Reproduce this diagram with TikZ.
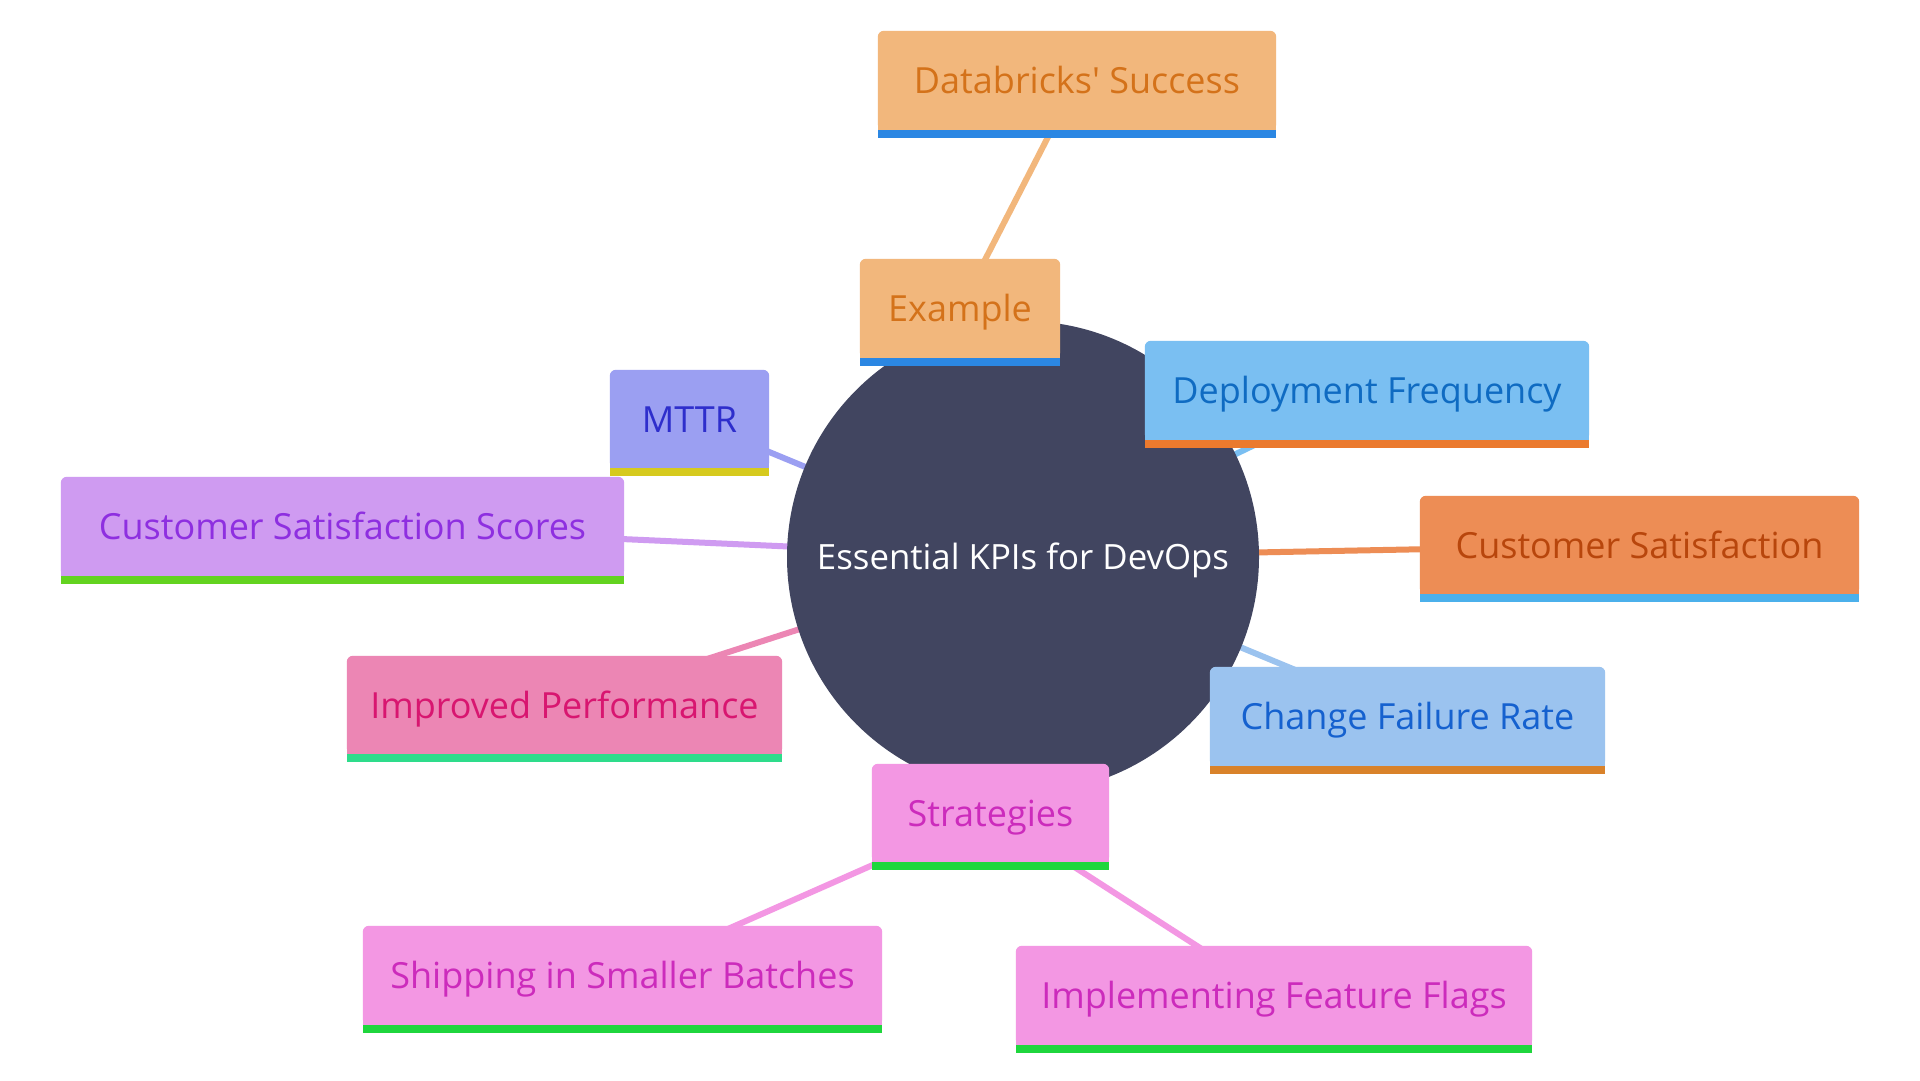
\documentclass[tikz,border=0pt]{standalone}
\usepackage{fontspec}
\newfontfamily\kfont{Open Sans}
\usetikzlibrary{calc}
\pgfdeclarelayer{bg}
\pgfdeclarelayer{edges}
\pgfdeclarelayer{circ}
\pgfdeclarelayer{boxes}
\pgfsetlayers{bg,edges,circ,boxes,main}

\definecolor{orfill}{HTML}{F2B77C}\definecolor{ortext}{HTML}{D4721A}\definecolor{orbar}{HTML}{2B87E3}
\definecolor{mtfill}{HTML}{9B9FF2}\definecolor{mttext}{HTML}{2E2ECC}\definecolor{mtbar}{HTML}{D6CA1E}
\definecolor{dffill}{HTML}{7ABFF2}\definecolor{dftext}{HTML}{0F6BC2}\definecolor{dfbar}{HTML}{EB7A2E}
\definecolor{csfill}{HTML}{ED8D55}\definecolor{cstext}{HTML}{B8460C}\definecolor{csbar}{HTML}{4BB0EB}
\definecolor{cffill}{HTML}{9BC3EF}\definecolor{cftext}{HTML}{1561CF}\definecolor{cfbar}{HTML}{D9822A}
\definecolor{ssfill}{HTML}{CF9BF1}\definecolor{sstext}{HTML}{8E2FE0}\definecolor{ssbar}{HTML}{63D320}
\definecolor{ipfill}{HTML}{EC86B4}\definecolor{iptext}{HTML}{D81670}\definecolor{ipbar}{HTML}{2EDC8B}
\definecolor{stfill}{HTML}{F397E3}\definecolor{sttext}{HTML}{CC2BBC}\definecolor{stbar}{HTML}{1FD63D}
\definecolor{hub}{HTML}{414560}

\tikzset{
  kbox/.style={inner sep=0pt, font=\kfont\fontsize{36}{44}\selectfont,
               text height=26pt, text depth=0pt},
  link/.style={line width=6pt},
}

% name, cx, cy, w, h, fill, bar, text colour, label
\newcommand\mkbox[9]{%
  \node[kbox, text=#8, minimum width=#4, minimum height=#5] (#1) at (#2,#3) {#9};
  \begin{pgfonlayer}{boxes}
    \fill[#6, rounded corners=6pt] (#1.south west) rectangle (#1.north east);
    \fill[#6] (#1.south west) rectangle (#1.east);
    \fill[#7] (#1.south west) rectangle ($(#1.south east)+(0,8)$);
  \end{pgfonlayer}}

\begin{document}
\begin{tikzpicture}[x=1pt,y=-1pt]
\useasboundingbox (0,0) rectangle (1920,1080);
\begin{pgfonlayer}{bg}
\fill[white] (0,0) rectangle (1920,1080);
\end{pgfonlayer}

\begin{pgfonlayer}{circ}
\node[circle, fill=hub, minimum size=472pt, inner sep=0pt] (hub) at (1023,557) {};
\end{pgfonlayer}
\node[text=white, inner sep=0pt, font=\kfont\fontsize{34.8}{42}\selectfont]
  (hublabel) at ([yshift=-3pt]hub.center) {Essential KPIs for DevOps};

\mkbox{ds}{1077}{80.5}{398}{99}{orfill}{orbar}{ortext}{Databricks' Success}
\mkbox{ex}{960}{308.5}{200}{99}{orfill}{orbar}{ortext}{Example}
\mkbox{mttr}{689.5}{419}{159}{98}{mtfill}{mtbar}{mttext}{MTTR}
\mkbox{df}{1367}{390.5}{444}{99}{dffill}{dfbar}{dftext}{Deployment Frequency}
\mkbox{cs}{1639.5}{545}{439}{98}{csfill}{csbar}{cstext}{Customer Satisfaction}
\mkbox{cfr}{1407.5}{716.5}{395}{99}{cffill}{cfbar}{cftext}{Change Failure Rate}
\mkbox{css}{342.5}{526.5}{563}{99}{ssfill}{ssbar}{sstext}{Customer Satisfaction Scores}
\mkbox{ip}{564.5}{705}{435}{98}{ipfill}{ipbar}{iptext}{Improved Performance}
\mkbox{st}{990.5}{813}{237}{98}{stfill}{stbar}{sttext}{Strategies}
\mkbox{sh}{622.5}{975.5}{519}{99}{stfill}{stbar}{sttext}{Shipping in Smaller Batches}
\mkbox{ff}{1274}{995.5}{516}{99}{stfill}{stbar}{sttext}{Implementing Feature Flags}

\begin{pgfonlayer}{edges}
\draw[link, orfill] (hub.center) -- (ex.center);
\draw[link, orfill] (ex.center) -- (ds.center);
\draw[link, mtfill] (hub.center) -- (mttr.center);
\draw[link, dffill] (hub.center) -- (df.center);
\draw[link, csfill] (hub.center) -- (cs.center);
\draw[link, cffill] (hub.center) -- (cfr.center);
\draw[link, ssfill] (hub.center) -- (css.center);
\draw[link, ipfill] (hub.center) -- (ip.center);
\draw[link, stfill] (hub.center) -- (st.center);
\draw[link, stfill] (st.center) -- (sh.center);
\draw[link, stfill] (st.center) -- (ff.center);
\end{pgfonlayer}
\end{tikzpicture}
\end{document}
